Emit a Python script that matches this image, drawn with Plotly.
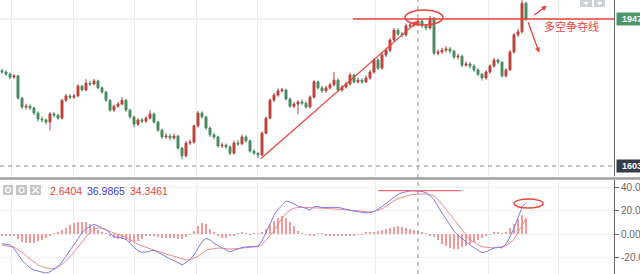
import plotly.graph_objects as go
from plotly.subplots import make_subplots

# ---------------- data ----------------
opens = [1826,1823,1818,1811,1814,1762,1741,1743,1739,1727,
         1713,1711,1706,1725,1722,1715,1757,1767,1764,1767,
         1790,1781,1797,1795,1802,1786,1776,1757,1734,1743,
         1748,1757,1734,1718,1701,1711,1708,1715,1725,1706,
         1687,1671,1673,1669,1673,1645,1627,1657,1659,1697,
         1727,1718,1692,1676,1671,1650,1652,1648,1633,1657,
         1655,1671,1662,1638,1633,1629,1680,1715,1757,1769,
         1779,1781,1760,1743,1748,1753,1750,1741,1764,1800,
         1786,1779,1786,1793,1804,1781,1788,1795,1816,1800,
         1804,1800,1809,1823,1851,1832,1863,1874,1898,1921,
         1912,1910,1931,1933,1935,1942,1931,1926,1949,1867,
         1870,1874,1877,1872,1858,1860,1839,1842,1837,1828,
         1818,1809,1823,1837,1851,1846,1814,1828,1870,1910,
         1917,1984]
highs = [1831,1827,1822,1818,1816,1765,1749,1747,1742,1731,
         1719,1714,1729,1730,1726,1760,1772,1771,1772,1794,
         1793,1806,1803,1807,1805,1789,1779,1760,1747,1753,
         1764,1760,1737,1721,1715,1716,1720,1734,1728,1709,
         1690,1680,1678,1679,1676,1648,1661,1665,1700,1732,
         1731,1721,1696,1681,1674,1658,1656,1651,1662,1664,
         1677,1675,1665,1642,1636,1684,1719,1761,1774,1785,
         1786,1784,1763,1753,1757,1759,1754,1768,1804,1803,
         1790,1791,1798,1823,1808,1793,1800,1821,1819,1810,
         1808,1815,1828,1855,1856,1867,1880,1902,1926,1925,
         1917,1936,1939,1941,1947,1945,1935,1954,1952,1876,
         1880,1884,1882,1875,1866,1863,1848,1846,1841,1832,
         1821,1827,1841,1856,1855,1849,1832,1874,1914,1924,
         1991,1988]
lows = [1819,1814,1806,1807,1758,1737,1736,1734,1722,1707,
        1705,1700,1686,1717,1711,1712,1753,1759,1760,1764,
        1777,1778,1790,1792,1783,1772,1753,1730,1730,1739,
        1745,1730,1713,1694,1697,1703,1704,1712,1702,1683,
        1666,1667,1663,1665,1641,1618,1623,1652,1655,1693,
        1714,1688,1671,1666,1646,1645,1643,1628,1630,1650,
        1652,1658,1634,1629,1622,1626,1677,1712,1753,1765,
        1775,1756,1739,1738,1724,1746,1737,1738,1761,1782,
        1774,1775,1782,1789,1777,1777,1784,1791,1796,1796,
        1795,1797,1805,1819,1827,1829,1858,1870,1894,1907,
        1904,1906,1926,1928,1930,1926,1920,1922,1862,1862,
        1865,1869,1866,1853,1852,1834,1835,1831,1823,1813,
        1803,1805,1819,1833,1841,1810,1810,1825,1866,1905,
        1913,1942]
closes = [1823,1818,1811,1814,1762,1741,1743,1739,1727,1713,
          1711,1706,1725,1722,1715,1757,1767,1764,1767,1790,
          1781,1797,1795,1802,1786,1776,1757,1734,1743,1748,
          1757,1734,1718,1701,1711,1708,1715,1725,1706,1687,
          1671,1673,1669,1673,1645,1627,1657,1659,1697,1727,
          1718,1692,1676,1671,1650,1652,1648,1633,1657,1655,
          1671,1662,1638,1633,1629,1680,1715,1757,1769,1779,
          1781,1760,1743,1748,1753,1750,1741,1764,1800,1786,
          1779,1786,1793,1804,1781,1788,1795,1816,1800,1804,
          1800,1809,1823,1851,1832,1863,1874,1898,1921,1912,
          1910,1931,1933,1935,1942,1931,1926,1949,1867,1870,
          1874,1877,1872,1858,1860,1839,1842,1837,1828,1818,
          1809,1823,1837,1851,1846,1814,1828,1870,1910,1917,
          1984,1947]

dif = [-8.3,-8.8,-9.4,-12.5,-18,-22.5,-26,-29,-31,-32,
       -33,-33.5,-32.5,-30.5,-28,-24,-19,-14.5,-10,-4,
       1,4.5,6.5,8.4,7,5,3.8,0.5,-2.6,-2.6,
       -3.3,-4.6,-8,-11.5,-14.5,-15.5,-15.5,-14.5,-14,-15.5,
       -17.5,-20,-21.5,-22.7,-24.5,-26.6,-24.5,-22,-18,-12,
       -6.5,-3.8,-5,-8,-10,-12,-14,-15.5,-14,-12.7,
       -11.7,-11,-11,-11,-10.5,-6,1.5,8.5,16,21,
       25,28.2,27.5,25.5,24,23.2,22,20.6,23.5,23.5,
       22.8,22.6,22.3,22.6,22.9,22,21,20.1,19.6,19.1,
       18.7,18.1,18.4,19.2,21.3,23.5,26,29,31.5,34,
       35.5,36.3,36.9,37,36.99,36.5,35.5,33,29.5,23.5,
       18,13,7.5,2.5,-1,-4,-7,-9.5,-11.7,-14.2,
       -16,-15.3,-13.7,-12,-11.2,-12,-8.5,-2.5,5,14,
       23,27]
dea = [-9.5,-10,-10.6,-11.3,-13.5,-15.8,-18.5,-21.5,-24.3,-26.5,
       -28,-29.3,-30,-29.5,-28.3,-26,-23,-19.5,-15.5,-11,
       -7,-2.3,1.5,4.5,5.2,5,3.5,1.7,0.8,-0.3,
       -1.5,-3,-5,-7.2,-8.8,-10.2,-11.6,-12.8,-13.8,-15,
       -16,-17.2,-18.3,-19.2,-20.5,-21.6,-22.3,-21.8,-20.6,-19.3,
       -16.5,-14,-13.2,-12.4,-12,-12.2,-12.6,-12.9,-12.7,-12.3,
       -12,-11.7,-11.4,-11.1,-10.8,-9,-5.5,-1.5,3,8.5,
       13.5,17.5,20.6,22,22.8,22.9,22.6,22.3,22.3,22.3,
       22.2,22,21.9,21.8,21.6,21.4,21.1,20.8,20.5,20,
       19.5,19.1,18.9,19.3,20.2,21.6,23.8,26.4,28.6,30.4,
       31.6,32.7,33.5,34,34.35,34.6,34.5,33.8,32.6,29.5,
       25.5,21.2,17,12.5,8,3,-1.5,-5,-7.3,-9.3,
       -10.8,-11.4,-11.8,-12,-11.7,-11.1,-10,-7.5,-4.5,1.5,
       8,13.2]
hist = [-1,-1,-1,-1.5,-4,-6.5,-8,-8,-7.5,-6,
        -5,-3,-1.5,0.5,1.5,3.5,5.5,8,9.5,10.5,
        10.5,10.3,9,6.5,3.5,1.5,0.5,-1,-3.5,-4,
        -4.5,-5.5,-7,-6.5,-6,-4.5,-2,-1,-2,-2.5,
        -3,-3.5,-3,-3.5,-4,-4,-2.5,-0.5,2.5,7,
        9.5,9,4.5,1,-1.5,-3,-3,-2,-1,0.5,
        1,0.5,-0.5,0.5,0.5,1.5,4.5,8,11.5,13.5,
        15.5,14,10.5,6.5,2.5,0.8,-0.8,-2,-1,0.5,
        0.5,-1,-1.5,-1,-1.5,-1.2,-1,-1.5,-1,-0.5,
        -0.5,1,1.5,2,2.5,3.5,4.5,5.5,6,6.5,
        5.8,5,4.5,3.5,2.64,1.6,0.6,-1,-2.5,-5,
        -8.5,-10.5,-12,-12.5,-12.5,-11.5,-10,-8.5,-6.5,-5,
        -3.5,-2,-0.5,1,2,0.5,1.5,5,9,12.5,
        16.5,14]
bars = list(range(len(closes)))

last_price = 1947
cursor_price = 1603
cursor_bar = 104
price_labels = ["1947", "1603"]
macd_tickvals = [40, 20, 0, -20]
macd_ticktext = ["40.00", "20.00", "0.000", "-20.00"]
legend_vals = ["2.6404", "36.9865", "34.3461"]
note_text = "多空争夺线"

# ---------------- layout helpers ----------------
W, H, PW = 640, 274, 614
def px(x):
    return x / PW
def py(y):
    return 1 - y / H

RED = "#e8453c"
UP = "#b9443c"
DOWN = "#4b8b60"

fig = make_subplots(rows=2, cols=1, shared_xaxes=True)

fig.add_trace(go.Candlestick(
    x=bars, open=opens, high=highs, low=lows, close=closes,
    increasing=dict(line=dict(color=UP, width=1), fillcolor=UP),
    decreasing=dict(line=dict(color=DOWN, width=1), fillcolor=DOWN),
    whiskerwidth=0, showlegend=False), row=1, col=1)

fig.add_trace(go.Bar(x=bars, y=hist, width=0.45,
                     marker=dict(color="#f29a9a", line=dict(width=0)),
                     showlegend=False), row=2, col=1)
fig.add_trace(go.Scatter(x=bars, y=dea, mode="lines",
                         line=dict(color="#f08a8a", width=1), showlegend=False),
              row=2, col=1)
fig.add_trace(go.Scatter(x=bars, y=dif, mode="lines",
                         line=dict(color="#7d7df0", width=1), showlegend=False),
              row=2, col=1)

grid_x = [2.25, 17.75, 33, 48.5, 63.75, 93.25, 121.5, 139]
fig.update_xaxes(range=[-0.5, 153], showticklabels=False, ticks="",
                 tickvals=grid_x, showgrid=True, gridcolor="#e9edf2",
                 zeroline=False, showline=False, rangeslider_visible=False)

fig.update_layout(
    width=W, height=H, margin=dict(l=0, r=W - PW, t=0, b=0),
    paper_bgcolor="white", plot_bgcolor="white", showlegend=False,
    bargap=0,
    yaxis=dict(domain=[1 - 176 / H, 1], range=[1579.7, 1991.5], side="right",
               showticklabels=False, ticks="", showgrid=False, zeroline=False,
               showline=True, linecolor="#666", linewidth=1, automargin=False),
    yaxis2=dict(domain=[0, 1 - 180 / H], range=[-34.33, 46.35], side="right",
                tickvals=macd_tickvals, ticktext=macd_ticktext, ticks="outside",
                ticklen=4, tickcolor="#666",
                tickfont=dict(size=10, color="#666", family="Liberation Sans"),
                showgrid=True, gridcolor="#eef1f5", zeroline=False,
                showline=True, linecolor="#666", linewidth=1, automargin=False),
)

shapes = []
shapes.append(dict(type="line", xref="x", yref="y", x0=-0.5, x1=153,
                   y0=last_price, y1=last_price, layer="below",
                   line=dict(color="#dfe3e8", width=1)))
shapes.append(dict(type="line", xref="x", yref="y", x0=-0.5, x1=153,
                   y0=cursor_price, y1=cursor_price,
                   line=dict(color="#8c8c8c", width=1, dash="4px,4px")))
shapes.append(dict(type="line", xref="x", yref="paper", x0=cursor_bar, x1=cursor_bar,
                   y0=0, y1=1, line=dict(color="#8c8c8c", width=1, dash="4px,4px")))
shapes.append(dict(type="line", xref="x", yref="y", x0=87.75, x1=153,
                   y0=last_price, y1=last_price, line=dict(color=RED, width=1.5)))
shapes.append(dict(type="circle", xref="x", yref="y", x0=100.75, x1=110.25,
                   y0=1933, y1=1968, line=dict(color=RED, width=1.5)))
shapes.append(dict(type="line", xref="x2", yref="y2", x0=94, x1=114.75,
                   y0=37.2, y1=37.2, line=dict(color="#f07070", width=1.3)))
shapes.append(dict(type="circle", xref="x2", yref="y2", x0=128, x1=135.25,
                   y0=22.3, y1=30, line=dict(color=RED, width=1.5)))
shapes.append(dict(type="line", xref="paper", yref="paper", x0=0, x1=px(W),
                   y0=py(178.5), y1=py(178.5), line=dict(color="#a0a0a0", width=2.5)))
for x0, x1 in [(3, 13), (16, 27), (30, 41)]:
    shapes.append(dict(type="rect", xref="paper", yref="paper", x0=px(x0), x1=px(x1),
                       y0=py(195), y1=py(185), fillcolor="#c6c6c6", line=dict(width=0)))
for cx in [8, 21.5]:
    shapes.append(dict(type="circle", xref="paper", yref="paper", x0=px(cx - 2.5),
                       x1=px(cx + 2.5), y0=py(192.5), y1=py(187.5),
                       line=dict(color="white", width=1.2)))
shapes.append(dict(type="line", xref="paper", yref="paper", x0=px(32.5), x1=px(38.5),
                   y0=py(187), y1=py(193), line=dict(color="white", width=1.3)))
shapes.append(dict(type="line", xref="paper", yref="paper", x0=px(32.5), x1=px(38.5),
                   y0=py(193), y1=py(187), line=dict(color="white", width=1.3)))
for x0, x1 in [(580, 592), (594, 605)]:
    shapes.append(dict(type="rect", xref="paper", yref="paper", x0=px(x0), x1=px(x1),
                       y0=py(7), y1=py(-2), fillcolor="#cdd1d6", line=dict(width=0)))
    m = (x0 + x1) / 2
    shapes.append(dict(type="path", xref="paper", yref="paper",
                       path=f"M {px(m-3)},{py(2)} L {px(m+3)},{py(2)} L {px(m)},{py(5.5)} Z",
                       fillcolor="white", line=dict(width=0)))
fig.update_layout(shapes=shapes)

ann = []
ann.append(dict(x=104.1, y=1943, ax=64.3, ay=1617, xref="x", yref="y",
                axref="x", ayref="y", text="", showarrow=True, arrowhead=2,
                arrowsize=0.8, arrowwidth=1.3, arrowcolor=RED, standoff=0))
ann.append(dict(x=136.2, y=1978, ax=132.7, ay=1954, xref="x", yref="y",
                axref="x", ayref="y", text="", showarrow=True, arrowhead=2,
                arrowsize=0.8, arrowwidth=1.3, arrowcolor=RED, standoff=0))
ann.append(dict(x=134.3, y=1868, ax=131.4, ay=1943, xref="x", yref="y",
                axref="x", ayref="y", text="", showarrow=True, arrowhead=2,
                arrowsize=0.8, arrowwidth=1.3, arrowcolor=RED, standoff=0))
ann.append(dict(x=142.25, y=1930.5, xref="x", yref="y", text=note_text,
                showarrow=False, xanchor="center", yanchor="middle",
                font=dict(size=11, color=RED, family="Noto Sans CJK SC")))
ann.append(dict(x=1, y=last_price, xref="paper", yref="y", xanchor="left",
                xshift=2, text="<b>" + price_labels[0] + "</b>", showarrow=False,
                font=dict(size=9, color="white", family="Liberation Sans"),
                bgcolor="#4e9668", borderpad=1, width=28, height=10, align="center"))
ann.append(dict(x=1, y=cursor_price, xref="paper", yref="y", xanchor="left",
                xshift=2, text="<b>" + price_labels[1] + "</b>", showarrow=False,
                font=dict(size=9, color="white", family="Liberation Sans"),
                bgcolor="#363b47", borderpad=1, width=28, height=10, align="center"))
for txt, x0, col in zip(legend_vals, [48, 85, 128], [RED, "#3b3bd4", RED]):
    ann.append(dict(x=px(x0), y=py(190.5), xref="paper", yref="paper",
                    xanchor="left", yanchor="middle", text=txt, showarrow=False,
                    font=dict(size=10.5, color=col, family="Liberation Sans")))
fig.update_layout(annotations=ann)

fig.write_html("out.html")
